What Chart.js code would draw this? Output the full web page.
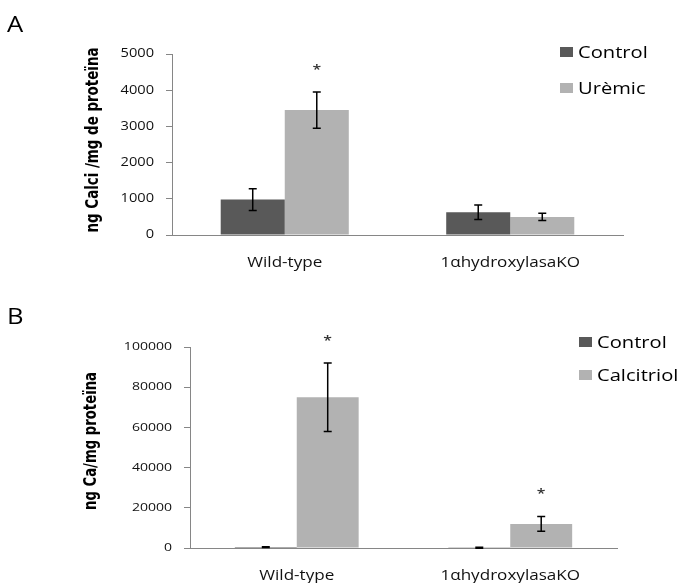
<!DOCTYPE html>
<html>
<head>
<meta charset="utf-8">
<script src="https://cdn.jsdelivr.net/npm/chart.js@4/dist/chart.umd.min.js"></script>
<style>
  html, body { margin: 0; padding: 0; background: #fff; }
  #wrap { position: relative; width: 680px; height: 583px; overflow: hidden; }
  canvas { position: absolute; left: 0; }
  #chartA { top: 0; }
  #chartB { top: 290px; }
</style>
</head>
<body>
<div id="wrap">
  <canvas id="chartA" width="680" height="290"></canvas>
  <canvas id="chartB" width="680" height="293"></canvas>
</div>
<script>
// ---- shared categories ----
const groups = ['Wild-type', '1\u03B1hydroxylasaKO'];

// ---- panel A: calcium content, control vs uremic ----
const seriesA = ['Control', 'Ur\u00E8mic'];
const controlA = [980, 630];
const controlErrA = [300, 200];
const uremicA = [3450, 500];
const uremicErrA = [500, 100];
const starsControlA = [false, false];
const starsUremicA = [true, false];
const yTicksA = [0, 1000, 2000, 3000, 4000, 5000];
const yTitleA = 'ng Calci /mg de prote\u00EFna';

// ---- panel B: calcium content, control vs calcitriol ----
const seriesB = ['Control', 'Calcitriol'];
const controlB = [450, 150];
const controlErrB = [200, 250];
const calcitriolB = [75000, 12000];
const calcitriolErrB = [17000, 3700];
const starsControlB = [false, false];
const starsCalcitriolB = [true, true];
const yTicksB = [0, 20000, 40000, 60000, 80000, 100000];
const yTitleB = 'ng Ca/mg prote\u00EFna';

const DARK = '#595959';
const LIGHT = '#b2b2b2';
const AXIS = '#868686';
const INK = '#111';
const TEXT_SCALE_X = 1.22;   // wide lettering used throughout the figure
const SANS = '"Open Sans", "Noto Sans", sans-serif';
const NARROW_BOLD = '"Liberation Sans Narrow", "DejaVu Sans Condensed", "Liberation Sans", sans-serif';

// Horizontally widened text for every fillText on a chart context
function installWideText(ctx) {
  if (ctx.__wide) return;
  const base = ctx.fillText.bind(ctx);
  ctx.textScaleX = TEXT_SCALE_X;
  ctx.fillText = function (t, x, y) {
    this.save();
    this.translate(x, y);
    this.scale(this.textScaleX, 1);
    base(t, 0, 0);
    this.restore();
  };
  ctx.__wide = true;
}

// Error bars, significance stars, legend, panel letter and y title
const panelDecor = {
  id: 'panelDecor',
  beforeInit(chart) { installWideText(chart.ctx); },
  beforeDraw(chart) { installWideText(chart.ctx); },
  afterDatasetsDraw(chart) {
    const ctx = chart.ctx;
    const y = chart.scales.y;
    chart.data.datasets.forEach((ds, di) => {
      const meta = chart.getDatasetMeta(di);
      meta.data.forEach((bar, i) => {
        const v = ds.data[i], e = ds.errors[i];
        const yt = y.getPixelForValue(v + e);
        const yb = y.getPixelForValue(v - e);
        ctx.save();
        ctx.strokeStyle = '#000';
        ctx.lineWidth = 1.5;
        ctx.beginPath();
        ctx.moveTo(bar.x, yt); ctx.lineTo(bar.x, yb);
        ctx.moveTo(bar.x - 4, yt); ctx.lineTo(bar.x + 4, yt);
        ctx.moveTo(bar.x - 4, yb); ctx.lineTo(bar.x + 4, yb);
        ctx.stroke();
        if (ds.stars[i]) {
          ctx.fillStyle = '#333';
          ctx.font = '600 13px ' + SANS;
          ctx.textAlign = 'center';
          ctx.textBaseline = 'alphabetic';
          ctx.fillText('*', bar.x, yt - 18);
        }
        ctx.restore();
      });
    });
  },
  afterDraw(chart, args, opts) {
    const ctx = chart.ctx;
    ctx.save();
    // legend
    chart.data.datasets.forEach((ds, di) => {
      const top = opts.legendY + di * opts.legendGap;
      ctx.fillStyle = ds.backgroundColor;
      ctx.fillRect(opts.legendX, top, 13, 10);
      ctx.fillStyle = '#000';
      ctx.font = '16.5px ' + SANS;
      ctx.textAlign = 'left';
      ctx.textBaseline = 'alphabetic';
      ctx.fillText(ds.label, opts.legendX + 18, top + 11);
    });
    // panel letter
    ctx.fillStyle = '#000';
    ctx.font = '21px ' + SANS;
    ctx.textAlign = 'left';
    ctx.textBaseline = 'alphabetic';
    ctx.fillText(opts.letter, 7, opts.letterY);
    // y-axis title, fitted to its length
    ctx.font = 'bold 17px ' + NARROW_BOLD;
    const w = ctx.measureText(opts.yTitle).width;
    ctx.translate(opts.titleX, opts.titleY);
    ctx.rotate(-Math.PI / 2);
    ctx.textAlign = 'center';
    ctx.textScaleX = opts.titleLen / w;
    ctx.fillText(opts.yTitle, 0, 0);
    ctx.textScaleX = TEXT_SCALE_X;
    ctx.restore();
  }
};

function makePanel(id, p) {
  return new Chart(document.getElementById(id), {
    type: 'bar',
    data: {
      labels: groups,
      datasets: p.datasets
    },
    options: {
      responsive: false,
      animation: false,
      layout: { padding: { left: 0, top: p.top, right: p.right, bottom: 0 } },
      datasets: { bar: { categoryPercentage: p.catPct, barPercentage: 1.0, borderWidth: 0 } },
      plugins: {
        legend: { display: false },
        tooltip: { enabled: false },
        panelDecor: p.decor
      },
      scales: {
        x: {
          grid: { display: false, drawTicks: false },
          border: { display: true, color: AXIS, width: 1 },
          ticks: { font: { family: SANS, size: 14 }, color: INK, padding: 20 },
          afterFit(scale) { scale.height = p.xHeight; }
        },
        y: {
          min: 0,
          max: p.ticks[p.ticks.length - 1],
          afterBuildTicks(scale) { scale.ticks = p.ticks.map(v => ({ value: v })); },
          grid: { drawOnChartArea: false, drawTicks: true, tickLength: 6, color: AXIS },
          border: { display: true, color: AXIS, width: 1 },
          ticks: {
            font: { family: SANS, size: p.tickSize },
            color: INK,
            padding: 12,
            callback: v => String(v)
          },
          afterFit(scale) { scale.width = p.yWidth; }
        }
      }
    },
    plugins: [panelDecor]
  });
}

makePanel('chartA', {
  top: 54, right: 57, xHeight: 55, yWidth: 172, catPct: 0.568, tickSize: 12,
  ticks: yTicksA,
  datasets: [
    { label: seriesA[0], data: controlA, errors: controlErrA, stars: starsControlA, backgroundColor: DARK },
    { label: seriesA[1], data: uremicA, errors: uremicErrA, stars: starsUremicA, backgroundColor: LIGHT }
  ],
  decor: { letter: 'A', letterY: 32, legendX: 560, legendY: 47, legendGap: 36,
           yTitle: yTitleA, titleX: 98, titleY: 140, titleLen: 185 }
});

makePanel('chartB', {
  top: 57, right: 63, xHeight: 35, yWidth: 190, catPct: 0.58, tickSize: 11.5,
  ticks: yTicksB,
  datasets: [
    { label: seriesB[0], data: controlB, errors: controlErrB, stars: starsControlB, backgroundColor: DARK },
    { label: seriesB[1], data: calcitriolB, errors: calcitriolErrB, stars: starsCalcitriolB, backgroundColor: LIGHT }
  ],
  decor: { letter: 'B', letterY: 34, legendX: 579, legendY: 47, legendGap: 33,
           yTitle: yTitleB, titleX: 96, titleY: 151, titleLen: 138 }
});
</script>
</body>
</html>
